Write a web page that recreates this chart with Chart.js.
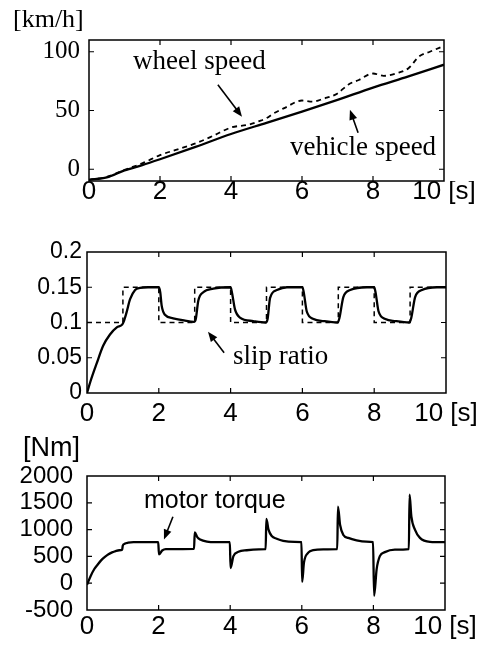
<!DOCTYPE html>
<html>
<head>
<meta charset="utf-8">
<script src="https://cdn.jsdelivr.net/npm/chart.js@4.4.1/dist/chart.umd.min.js"></script>
<style>
  html, body { margin: 0; padding: 0; background: #fff; }
  body { width: 487px; height: 648px; position: relative; overflow: hidden; }
  canvas { position: absolute; left: 0; }
</style>
</head>
<body>
<canvas id="speedChart" width="487" height="212" style="top:0px"></canvas>
<canvas id="slipChart" width="487" height="215" style="top:215px"></canvas>
<canvas id="torqueChart" width="487" height="213" style="top:435px"></canvas>
<script>
// asse dei tempi comune ai tre grafici
const timeTicks = [0, 2, 4, 6, 8, 10];
const timeTickLabels = ['0', '2', '4', '6', '8', '10 [s]'];

// velocita' [km/h]
const speedTicks = [0, 50, 100];
const speedTickLabels = ['0', '50', '100'];
const vehicleTime = [0, 0.5, 1, 1.5, 2, 3, 4, 5, 6, 7, 8, 9, 10];
const vehicleSpeed = [-9, -7, -1, 3.5, 8.5, 19, 30, 39.5, 49, 59, 69.5, 79, 89];
const wheelTime = [0, 0.5, 1, 1.5, 2, 2.5, 3, 3.5, 4, 4.5, 4.8, 5, 5.2, 5.5, 6, 6.3, 6.6, 7, 7.3, 7.6, 8, 8.3, 8.7, 9, 9.3, 9.6, 10];
const wheelSpeed = [-9, -6.5, -0.5, 5, 12, 17, 22, 28.5, 35.5, 38, 41, 43.5, 47.5, 52, 58.5, 57.5, 60, 64.5, 72, 76, 81.5, 79.5, 82, 86, 96, 100, 105];

// slip ratio (riferimento tratteggiato + valore misurato)
const slipTicks = [0, 0.05, 0.1, 0.15, 0.2];
const slipTickLabels = ['0', '0.05', '0.1', '0.15', '0.2'];
const slipRefTime = [0, 1, 2, 3, 4, 5, 6, 7, 8, 9, 10];
const slipRefValue = [0.1, 0.15, 0.1, 0.15, 0.1, 0.15, 0.1, 0.15, 0.1, 0.15, 0.15];
const slipTime = [0, 0.1, 0.27, 0.45, 0.64, 0.83, 0.98, 1.02, 1.1, 1.2, 1.34, 1.48, 1.7, 2.0,
  2.04, 2.08, 2.17, 2.4, 2.7, 2.98, 3.03, 3.1, 3.24, 3.52, 4.0,
  4.04, 4.12, 4.26, 4.63, 4.98, 5.03, 5.1, 5.29, 5.57, 6.0,
  6.04, 6.12, 6.31, 6.6, 6.98, 7.03, 7.14, 7.33, 7.8, 8.0,
  8.04, 8.12, 8.31, 8.6, 8.98, 9.03, 9.14, 9.33, 9.75, 10];
const slipValue = [0, 0.017, 0.042, 0.067, 0.083, 0.093, 0.097, 0.101, 0.114, 0.133, 0.146, 0.149, 0.15, 0.15,
  0.143, 0.124, 0.111, 0.106, 0.103, 0.101, 0.105, 0.131, 0.143, 0.148, 0.15,
  0.142, 0.119, 0.107, 0.102, 0.1, 0.105, 0.135, 0.146, 0.15, 0.15,
  0.142, 0.116, 0.105, 0.102, 0.1, 0.106, 0.136, 0.146, 0.15, 0.15,
  0.142, 0.116, 0.105, 0.102, 0.1, 0.106, 0.136, 0.146, 0.15, 0.15];

// coppia motore [Nm]
const torqueTicks = [-500, 0, 500, 1000, 1500, 2000];
const torqueTickLabels = ['-500', '0', '500', '1000', '1500', '2000'];
const torqueTime = [0, 0.1, 0.2, 0.3, 0.4, 0.5, 0.6, 0.7, 0.8, 0.9, 0.98, 1.0, 1.05, 1.15, 1.3, 1.99,
  2.01, 2.1, 2.2, 2.99, 3.01, 3.08, 3.16, 3.35, 3.6, 3.99,
  4.01, 4.09, 4.23, 4.46, 4.8, 4.99, 5.01, 5.07, 5.16, 5.3, 5.48, 5.8, 5.99,
  6.01, 6.06, 6.18, 6.32, 6.6, 6.99, 7.01, 7.07, 7.16, 7.3, 7.53, 7.8, 7.99,
  8.02, 8.09, 8.18, 8.32, 8.6, 8.99, 9.01, 9.06, 9.16, 9.3, 9.58, 10];
const torqueValue = [-30, 130, 260, 350, 430, 490, 540, 575, 600, 615, 620, 700, 735, 755, 765, 765,
  540, 610, 635, 640, 950, 860, 815, 775, 765, 765,
  280, 505, 585, 615, 632, 635, 1200, 1000, 880, 830, 790, 770, 765,
  25, 383, 569, 617, 632, 635, 1430, 1085, 900, 845, 800, 775, 765,
  -235, 259, 505, 580, 625, 635, 1650, 1246, 1000, 846, 772, 765];

const SANS = '"Liberation Sans", Arial, Helvetica, sans-serif';
const SERIF = '"Liberation Serif", "Times New Roman", Times, serif';

function series(times, values, style) {
    return Object.assign({
        data: times.map((t, i) => ({ x: t, y: values[i] })),
        borderColor: '#000',
        pointRadius: 0,
        fill: false
    }, style);
}

// cornice chiusa con tacche verso l'interno (stile MATLAB)
const framePlugin = {
    id: 'frame',
    afterDraw(chart) {
        const { ctx, chartArea: a, scales } = chart;
        ctx.save();
        ctx.strokeStyle = '#000';
        ctx.lineWidth = 1.5;
        ctx.strokeRect(a.left, a.top, a.right - a.left, a.bottom - a.top);
        ctx.lineWidth = 1.2;
        ctx.beginPath();
        scales.x.ticks.forEach(t => {
            const px = scales.x.getPixelForValue(t.value);
            if (px <= a.left + 1 || px >= a.right - 1) return;
            ctx.moveTo(px, a.bottom); ctx.lineTo(px, a.bottom - 5);
            ctx.moveTo(px, a.top); ctx.lineTo(px, a.top + 5);
        });
        scales.y.ticks.forEach(t => {
            const py = scales.y.getPixelForValue(t.value);
            if (py <= a.top + 1 || py >= a.bottom - 1) return;
            ctx.moveTo(a.left, py); ctx.lineTo(a.left + 5, py);
            ctx.moveTo(a.right, py); ctx.lineTo(a.right - 5, py);
        });
        ctx.stroke();
        ctx.restore();
    }
};

function drawArrow(ctx, x1, y1, x2, y2) {
    const ang = Math.atan2(y2 - y1, x2 - x1);
    const len = 10, half = 4;
    ctx.beginPath();
    ctx.moveTo(x1, y1);
    ctx.lineTo(x2 - Math.cos(ang) * len * 0.8, y2 - Math.sin(ang) * len * 0.8);
    ctx.stroke();
    ctx.beginPath();
    ctx.moveTo(x2, y2);
    ctx.lineTo(x2 - Math.cos(ang) * len - Math.sin(ang) * half, y2 - Math.sin(ang) * len + Math.cos(ang) * half);
    ctx.lineTo(x2 - Math.cos(ang) * len + Math.sin(ang) * half, y2 - Math.sin(ang) * len - Math.cos(ang) * half);
    ctx.closePath();
    ctx.fill();
}

// etichette, frecce e unita' di misura
function notesPlugin(notes) {
    return {
        id: 'notes',
        afterDraw(chart) {
            const { ctx, chartArea: a, scales } = chart;
            ctx.save();
            ctx.fillStyle = '#000';
            ctx.strokeStyle = '#000';
            ctx.lineWidth = 1.6;
            ctx.textBaseline = 'middle';
            ctx.textAlign = 'left';
            if (notes.unit) {
                ctx.font = notes.unit.font;
                ctx.fillText(notes.unit.text, a.left + notes.unit.dx, a.top + notes.unit.dy);
            }
            notes.texts.forEach(n => {
                ctx.font = n.font;
                ctx.fillText(n.text, scales.x.getPixelForValue(n.x), scales.y.getPixelForValue(n.y));
            });
            notes.arrows.forEach(r => {
                drawArrow(ctx,
                    scales.x.getPixelForValue(r.from[0]), scales.y.getPixelForValue(r.from[1]),
                    scales.x.getPixelForValue(r.to[0]), scales.y.getPixelForValue(r.to[1]));
            });
            ctx.restore();
        }
    };
}

function buildPanel(id, box, datasets, yAxis, xPad, notes) {
    const canvas = document.getElementById(id);
    const H = canvas.height;
    return new Chart(canvas, {
        type: 'line',
        data: { datasets: datasets },
        options: {
            responsive: false,
            animation: false,
            events: [],
            layout: { padding: { left: 0, top: box.top, right: canvas.width - box.right, bottom: 0 } },
            plugins: { legend: { display: false }, tooltip: { enabled: false } },
            scales: {
                x: {
                    type: 'linear', min: 0, max: 10,
                    afterBuildTicks: s => { s.ticks = timeTicks.map(v => ({ value: v })); },
                    afterFit: s => { s.height = H - box.bottom; },
                    grid: { display: false, drawTicks: false },
                    border: { display: false },
                    ticks: {
                        color: '#000', padding: xPad, maxRotation: 0, autoSkip: false,
                        font: { family: SANS, size: 26, lineHeight: 1 },
                        callback: (v, i) => timeTickLabels[i]
                    }
                },
                y: {
                    type: 'linear', min: yAxis.min, max: yAxis.max,
                    afterBuildTicks: s => { s.ticks = yAxis.ticks.map(v => ({ value: v })); },
                    afterFit: s => { s.width = box.left; },
                    grid: { display: false, drawTicks: false },
                    border: { display: false },
                    ticks: {
                        color: '#000', padding: yAxis.padding, autoSkip: false,
                        font: yAxis.font,
                        callback: (v, i) => yAxis.labels[i]
                    }
                }
            }
        },
        plugins: [framePlugin, notesPlugin(notes)]
    });
}

document.addEventListener('DOMContentLoaded', () => {
    buildPanel('speedChart', { left: 89, right: 444, top: 40, bottom: 181 }, [
        series(vehicleTime, vehicleSpeed, { borderWidth: 2.3, cubicInterpolationMode: 'monotone' }),
        series(wheelTime, wheelSpeed, { borderWidth: 1.8, borderDash: [5, 4], cubicInterpolationMode: 'monotone' })
    ], {
        min: -10, max: 110, ticks: speedTicks, labels: speedTickLabels, padding: 9,
        font: { family: SERIF, size: 25 }
    }, -2, {
        unit: { text: '[km/h]', font: '26px ' + SERIF, dx: -76, dy: -20 },
        texts: [
            { text: 'wheel speed', x: 1.24, y: 91.5, font: '27px ' + SERIF },
            { text: 'vehicle speed', x: 5.66, y: 18.3, font: '27px ' + SERIF }
        ],
        arrows: [
            { from: [3.63, 71.9], to: [4.31, 44.7] },
            { from: [7.58, 31], to: [7.35, 50.6] }
        ]
    });

    buildPanel('slipChart', { left: 87, right: 446, top: 37, bottom: 178 }, [
        series(slipRefTime, slipRefValue, { borderWidth: 1.5, borderDash: [5, 4], stepped: 'before' }),
        series(slipTime, slipValue, { borderWidth: 2.3, cubicInterpolationMode: 'monotone' })
    ], {
        min: 0, max: 0.2, ticks: slipTicks, labels: slipTickLabels, padding: 5,
        font: { family: SANS, size: 23 }
    }, 8, {
        texts: [
            { text: 'slip ratio', x: 4.07, y: 0.0514, font: '27px ' + SERIF }
        ],
        arrows: [
            { from: [3.82, 0.057], to: [3.37, 0.087] }
        ]
    });

    buildPanel('torqueChart', { left: 87, right: 445, top: 41, bottom: 175 }, [
        series(torqueTime, torqueValue, { borderWidth: 2.3, cubicInterpolationMode: 'monotone' })
    ], {
        min: -500, max: 2000, ticks: torqueTicks, labels: torqueTickLabels, padding: 14,
        font: { family: SANS, size: 24 }
    }, 4, {
        unit: { text: '[Nm]', font: '27px ' + SANS, dx: -64, dy: -27 },
        texts: [
            { text: 'motor torque', x: 1.59, y: 1537, font: '25px ' + SANS }
        ],
        arrows: [
            { from: [2.4, 1241], to: [2.15, 815] }
        ]
    });
});
</script>
</body>
</html>
